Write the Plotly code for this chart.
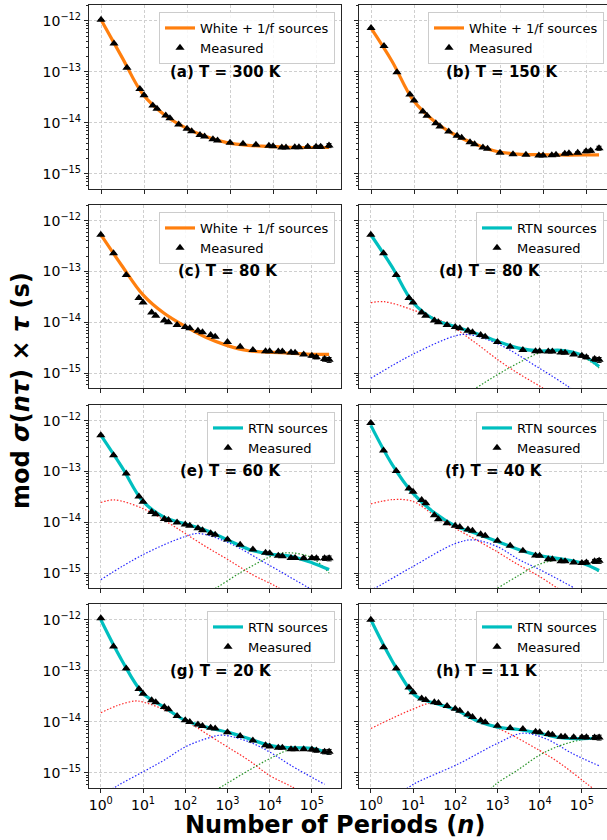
import plotly.graph_objects as go

# ---------------- measured data ----------------
N_ROW1 = [1, 2, 4, 8, 10, 16, 20, 32, 40, 64, 100, 128, 200, 256, 400, 512,
          1000, 2000, 4000, 8000, 10000, 16000, 20000, 32000, 40000, 64000,
          100000, 128000, 200000]
N_ALL = N_ROW1 + [256000]

MEAS_300K = [1.05e-12, 3.6e-13, 1.2e-13, 4.6e-14, 3.5e-14, 2.2e-14, 1.9e-14, 1.4e-14,
             1.23e-14, 9.3e-15, 7.7e-15, 6.9e-15, 5.8e-15, 5.4e-15, 4.8e-15, 4.5e-15,
             4.1e-15, 3.9e-15, 3.75e-15, 3.55e-15, 3.5e-15, 3.3e-15, 3.3e-15, 3.35e-15,
             3.35e-15, 3.4e-15, 3.4e-15, 3.4e-15, 3.6e-15]
MEAS_150K = [7.2e-13, 3.2e-13, 9.8e-14, 3.6e-14, 2.75e-14, 1.67e-14, 1.38e-14, 9.8e-15,
             8.5e-15, 6.8e-15, 5.6e-15, 5.1e-15, 4.2e-15, 3.8e-15, 3.3e-15, 3.1e-15,
             2.6e-15, 2.44e-15, 2.37e-15, 2.3e-15, 2.3e-15, 2.33e-15, 2.37e-15, 2.5e-15,
             2.55e-15, 2.6e-15, 2.78e-15, 2.85e-15, 3.2e-15]
MEAS_80K = [5.3e-13, 2.3e-13, 8.5e-14, 3.0e-14, 2.45e-14, 1.55e-14, 1.35e-14, 1.08e-14,
            1.0e-14, 8.8e-15, 8.05e-15, 7.6e-15, 6.8e-15, 6.35e-15, 5.6e-15, 5.2e-15,
            4.1e-15, 3.3e-15, 2.85e-15, 2.7e-15, 2.7e-15, 2.65e-15, 2.65e-15, 2.55e-15,
            2.52e-15, 2.33e-15, 2.18e-15, 2.05e-15, 1.88e-15, 1.82e-15]
MEAS_60K = [5.2e-13, 2.1e-13, 9.1e-14, 3.2e-14, 2.55e-14, 1.6e-14, 1.44e-14, 1.16e-14,
            1.11e-14, 9.9e-15, 9.0e-15, 8.5e-15, 7.6e-15, 7.0e-15, 6.1e-15, 5.7e-15,
            4.6e-15, 3.6e-15, 2.9e-15, 2.5e-15, 2.45e-15, 2.2e-15, 2.13e-15, 1.97e-15,
            1.97e-15, 1.95e-15, 1.97e-15, 1.95e-15, 1.95e-15, 1.95e-15]
MEAS_40K = [9.0e-13, 2.6e-13, 1.02e-13, 4.6e-14, 4.0e-14, 2.73e-14, 2.36e-14, 1.38e-14,
            1.14e-14, 9.6e-15, 8.5e-15, 8.1e-15, 7.2e-15, 6.8e-15, 5.8e-15, 5.4e-15,
            4.3e-15, 3.45e-15, 2.75e-15, 2.22e-15, 2.2e-15, 1.87e-15, 1.87e-15, 1.7e-15,
            1.7e-15, 1.62e-15, 1.58e-15, 1.62e-15, 1.7e-15, 1.74e-15]
MEAS_20K = [1.07e-12, 3.0e-13, 1.11e-13, 4.4e-14, 3.55e-14, 2.65e-14, 2.44e-14, 1.96e-14,
            1.77e-14, 1.31e-14, 1.08e-14, 1.0e-14, 8.9e-15, 8.3e-15, 7.7e-15, 7.4e-15,
            6.3e-15, 5.3e-15, 4.3e-15, 3.5e-15, 3.3e-15, 3.1e-15, 3.1e-15, 2.9e-15,
            2.9e-15, 2.9e-15, 2.87e-15, 2.75e-15, 2.6e-15, 2.6e-15]
MEAS_11K = [1.0e-12, 2.9e-13, 1.11e-13, 4.7e-14, 3.8e-14, 2.88e-14, 2.7e-14, 2.44e-14,
            2.34e-14, 2.05e-14, 1.8e-14, 1.65e-14, 1.39e-14, 1.25e-14, 1.06e-14, 9.9e-15,
            8.4e-15, 7.6e-15, 7.3e-15, 6.4e-15, 6.3e-15, 5.8e-15, 5.6e-15, 5.1e-15,
            5.1e-15, 5.0e-15, 5.0e-15, 5.0e-15, 4.95e-15, 4.95e-15]

# relative uncertainty of each measured point (same n order as N_ALL)
REL_ERR = [0.01, 0.01, 0.01, 0.01, 0.01, 0.01, 0.01, 0.01, 0.01, 0.01, 0.01, 0.01,
           0.01, 0.01, 0.015, 0.015, 0.02, 0.02, 0.02, 0.025, 0.025, 0.03, 0.03, 0.035,
           0.04, 0.05, 0.06, 0.07, 0.09, 0.11]

# ---------------- model curves ----------------
FIT_N_ROW1 = [1, 3.1, 9.5, 29.5, 91, 275, 850, 2600, 8100, 25000, 78000, 200000]
FIT_300K = [1.05e-12, 1.9e-13, 3.6e-14, 1.45e-14, 8.1e-15, 5.4e-15, 4.1e-15, 3.63e-15,
            3.47e-15, 3.32e-15, 3.3e-15, 3.3e-15]
FIT_150K = [7.2e-13, 1.6e-13, 2.8e-14, 1.08e-14, 5.8e-15, 3.8e-15, 2.75e-15, 2.45e-15,
            2.38e-15, 2.35e-15, 2.35e-15, 2.36e-15]

FIT_N = [1, 3.16, 10, 31.6, 100, 316, 1000, 3160, 10000, 31600, 100000, 256000]
FIT_80K_WF = [5.3e-13, 1.3e-13, 3.47e-14, 1.5e-14, 8.3e-15, 5.0e-15, 3.47e-15, 2.75e-15,
              2.57e-15, 2.45e-15, 2.34e-15, 2.32e-15]
FIT_80K_RTN = [5.3e-13, 1.25e-13, 2.45e-14, 1.14e-14, 8.2e-15, 6.0e-15, 4.2e-15, 3.1e-15,
               2.72e-15, 2.8e-15, 2.25e-15, 1.35e-15]
FIT_60K = [5.2e-13, 1.22e-13, 2.57e-14, 1.26e-14, 9.3e-15, 6.9e-15, 4.5e-15, 2.95e-15,
           2.35e-15, 2.13e-15, 1.6e-15, 1.17e-15]
FIT_40K = [8.1e-13, 1.4e-13, 3.7e-14, 1.55e-14, 8.5e-15, 6.0e-15, 4.2e-15, 2.9e-15,
           2.2e-15, 1.9e-15, 1.58e-15, 1.12e-15]
FIT_20K = [1.0e-12, 1.6e-13, 3.63e-14, 1.95e-14, 1.07e-14, 7.9e-15, 6.3e-15, 4.7e-15,
           3.47e-15, 3.1e-15, 3.05e-15, 2.4e-15]
FIT_N_11K = [1, 3.16, 10, 16, 31.6, 100, 316, 1000, 3160, 10000, 31600, 100000, 256000]
FIT_11K = [1.0e-12, 1.6e-13, 3.6e-14, 2.8e-14, 2.34e-14, 1.74e-14, 1.07e-14, 7.9e-15,
           7.1e-15, 6.0e-15, 4.9e-15, 4.7e-15, 4.9e-15]

# individual RTN source contributions
RED_N_80K = [1, 2.1, 10, 63, 270, 1150, 3470, 11200, 31600]
RED_80K = [2.43e-14, 2.54e-14, 1.74e-14, 9.5e-15, 4.2e-15, 1.7e-15, 9.3e-16, 5.2e-16, 2.8e-16]
BLUE_N_80K = [1, 10, 100, 200, 1000, 10000, 44700, 100000]
BLUE_80K = [7.9e-16, 2.35e-15, 5.4e-15, 5.75e-15, 3.8e-15, 1.23e-15, 5.6e-16, 3.5e-16]
GREEN_N_80K = [200, 1000, 3160, 10000, 20000, 100000, 256000]
GREEN_80K = [4.0e-16, 9.3e-16, 1.58e-15, 2.5e-15, 2.7e-15, 2.1e-15, 1.26e-15]

RED_N_60K = [1, 2.1, 10, 42, 100, 310, 1000, 3900, 13800, 40000]
RED_60K = [2.45e-14, 2.75e-14, 1.86e-14, 9.5e-15, 6.0e-15, 3.3e-15, 1.86e-15, 9.3e-16,
           5.5e-16, 3.2e-16]
BLUE_N_60K = [1, 10, 100, 210, 1100, 7900, 85000, 250000]
BLUE_60K = [7.4e-16, 2.3e-15, 5.25e-15, 6.0e-15, 3.9e-15, 1.58e-15, 5.1e-16, 3.2e-16]
GREEN_N_60K = [200, 520, 2700, 13800, 31600, 100000, 256000]
GREEN_60K = [3.2e-16, 5.0e-16, 1.17e-15, 2.3e-15, 2.5e-15, 2.0e-15, 1.0e-15]

RED_N_40K = [1, 3.4, 10, 31.6, 100, 316, 1000, 3160, 10000, 25000, 63000]
RED_40K = [2.3e-14, 2.8e-14, 2.57e-14, 1.38e-14, 7.6e-15, 4.5e-15, 2.6e-15, 1.45e-15,
           8.5e-16, 5.2e-16, 3.2e-16]
BLUE_N_40K = [1, 1.35, 10, 100, 270, 1000, 3160, 10000, 63000]
BLUE_40K = [4.6e-16, 5.2e-16, 1.35e-15, 3.8e-15, 4.5e-15, 3.3e-15, 1.86e-15, 1.17e-15, 5.2e-16]
GREEN_N_40K = [1000, 3160, 10000, 31600, 100000, 256000]
GREEN_40K = [5.0e-16, 8.9e-16, 1.5e-15, 1.82e-15, 1.58e-15, 1.05e-15]

RED_N_20K = [1, 2.5, 6.5, 10, 31.6, 100, 316, 1000, 3160, 10000, 31600, 100000]
RED_20K = [1.51e-14, 2.1e-14, 2.57e-14, 2.45e-14, 1.74e-14, 1.07e-14, 5.9e-15, 3.24e-15,
           1.78e-15, 8.9e-16, 5.5e-16, 3.2e-16]
BLUE_N_20K = [1, 2.6, 10, 31.6, 100, 316, 740, 3160, 10000, 31600, 200000]
BLUE_20K = [3.5e-16, 5.75e-16, 1.05e-15, 1.78e-15, 3.24e-15, 4.7e-15, 5.5e-15, 4.1e-15,
            2.57e-15, 1.41e-15, 6.0e-16]
GREEN_N_20K = [400, 900, 3160, 10000, 31600, 100000, 256000]
GREEN_20K = [4.0e-16, 6.0e-16, 1.12e-15, 1.9e-15, 2.9e-15, 3.0e-15, 2.4e-15]

RED_N_11K = [1, 3.16, 10, 28, 100, 316, 1000, 10000, 31600, 126000, 316000]
RED_11K = [7.4e-15, 1.17e-14, 1.78e-14, 2.34e-14, 1.66e-14, 1.05e-14, 7.6e-15, 2.75e-15,
           1.51e-15, 6.3e-16, 3.5e-16]
BLUE_N_11K = [6, 11, 120, 1000, 3900, 13800, 60000, 256000]
BLUE_11K = [4.5e-16, 6.2e-16, 1.51e-15, 3.8e-15, 6.0e-15, 4.7e-15, 2.4e-15, 1.38e-15]
GREEN_N_11K = [600, 910, 3160, 10000, 31600, 100000, 256000]
GREEN_11K = [4.3e-16, 6.0e-16, 1.17e-15, 2.24e-15, 3.47e-15, 4.47e-15, 4.9e-15]

# ---------------- tick labels ----------------
X_TICKS = [1, 10, 100, 1000, 10000, 100000]
X_TICK_TEXT = ["10<sup>0</sup>", "10<sup>1</sup>", "10<sup>2</sup>", "10<sup>3</sup>",
               "10<sup>4</sup>", "10<sup>5</sup>"]
Y_TICKS = [1e-15, 1e-14, 1e-13, 1e-12]
Y_TICK_TEXT = ["10<sup>−15</sup>", "10<sup>−14</sup>", "10<sup>−13</sup>", "10<sup>−12</sup>"]

LABEL_WF = "White + 1/f sources"
LABEL_RTN = "RTN sources"
LABEL_MEAS = "Measured"

ORANGE = "#ff7f0e"
CYAN = "#00bfbf"
FONT = "DejaVu Sans"

# panel layout in pixels (figure has no margins)
W, H = 607, 840
COLS = [(89, 341), (359, 607)]
ROWS = [(5, 189), (205, 388), (405, 588), (604, 788)]
X_RANGE = {0: (-0.28, 5.58), 1: (-0.28, 5.69)}   # row 1 vs rows 2-4 (left column)
Y_RANGE = [-15.295, -11.69]

panels = [
    dict(tag="(a) T = 300 K", n=N_ROW1, y=MEAS_300K, fn=FIT_N_ROW1, fy=FIT_300K,
         color=ORANGE, name=LABEL_WF, comps=None, tx=0.544),
    dict(tag="(b) T = 150 K", n=N_ROW1, y=MEAS_150K, fn=FIT_N_ROW1, fy=FIT_150K,
         color=ORANGE, name=LABEL_WF, comps=None, tx=0.577),
    dict(tag="(c) T = 80 K", n=N_ALL, y=MEAS_80K, fn=FIT_N, fy=FIT_80K_WF,
         color=ORANGE, name=LABEL_WF, comps=None, tx=0.55),
    dict(tag="(d) T = 80 K", n=N_ALL, y=MEAS_80K, fn=FIT_N, fy=FIT_80K_RTN,
         color=CYAN, name=LABEL_RTN, tx=0.530,
         comps=[(RED_N_80K, RED_80K), (BLUE_N_80K, BLUE_80K), (GREEN_N_80K, GREEN_80K)]),
    dict(tag="(e) T = 60 K", n=N_ALL, y=MEAS_60K, fn=FIT_N, fy=FIT_60K,
         color=CYAN, name=LABEL_RTN, tx=0.56,
         comps=[(RED_N_60K, RED_60K), (BLUE_N_60K, BLUE_60K), (GREEN_N_60K, GREEN_60K)]),
    dict(tag="(f) T = 40 K", n=N_ALL, y=MEAS_40K, fn=FIT_N, fy=FIT_40K,
         color=CYAN, name=LABEL_RTN, tx=0.544,
         comps=[(RED_N_40K, RED_40K), (BLUE_N_40K, BLUE_40K), (GREEN_N_40K, GREEN_40K)]),
    dict(tag="(g) T = 20 K", n=N_ALL, y=MEAS_20K, fn=FIT_N, fy=FIT_20K,
         color=CYAN, name=LABEL_RTN, tx=0.524,
         comps=[(RED_N_20K, RED_20K), (BLUE_N_20K, BLUE_20K), (GREEN_N_20K, GREEN_20K)]),
    dict(tag="(h) T = 11 K", n=N_ALL, y=MEAS_11K, fn=FIT_N_11K, fy=FIT_11K,
         color=CYAN, name=LABEL_RTN, tx=0.516,
         comps=[(RED_N_11K, RED_11K), (BLUE_N_11K, BLUE_11K), (GREEN_N_11K, GREEN_11K)]),
]
COMP_COLORS = ["rgba(255,0,0,0.85)", "rgba(0,0,255,0.85)", "rgba(0,128,0,0.85)"]

MINOR_Y = [k * 10.0 ** e for e in range(-16, -11) for k in range(2, 10)]

GRID_DASH = "3px,2px"

fig = go.Figure()
layout = dict(
    width=W, height=H, margin=dict(l=0, r=0, t=0, b=0),
    paper_bgcolor="white", plot_bgcolor="white",
    font=dict(family=FONT, color="black", size=14),
    showlegend=True, annotations=[],
)

for i, p in enumerate(panels):
    row, col = divmod(i, 2)
    k = i + 1
    xa, ya = ("x", "y") if k == 1 else (f"x{k}", f"y{k}")
    lg = "legend" if k == 1 else f"legend{k}"

    if p["comps"]:
        for (cn, cy), cc in zip(p["comps"], COMP_COLORS):
            fig.add_trace(go.Scatter(
                x=cn, y=cy, mode="lines", xaxis=xa, yaxis=ya, showlegend=False,
                line=dict(color=cc, width=1.2, dash="1.5px,1.8px", shape="spline"),
                hoverinfo="skip"))
    fig.add_trace(go.Scatter(
        x=p["fn"], y=p["fy"], mode="lines", name=p["name"], xaxis=xa, yaxis=ya,
        legend=lg, line=dict(color=p["color"], width=3.2, shape="spline", smoothing=1.0)))
    errs = [v * r for v, r in zip(p["y"], REL_ERR)]
    fig.add_trace(go.Scatter(
        x=p["n"], y=p["y"], mode="markers", name=LABEL_MEAS, xaxis=xa, yaxis=ya,
        legend=lg,
        marker=dict(symbol="triangle-up", size=8, color="black"),
        error_y=dict(type="data", array=errs, visible=True, color="black",
                     thickness=1, width=2.5)))

    x0, x1 = COLS[col]
    y0, y1 = ROWS[row]
    xr0, xr1 = X_RANGE[0 if row == 0 else 1]
    if col == 1:
        xr1 = xr0 + (xr1 - xr0) * (COLS[1][1] - COLS[1][0]) / (COLS[0][1] - COLS[0][0])

    layout["xaxis" if k == 1 else f"xaxis{k}"] = dict(
        type="log", range=[xr0, xr1], domain=[x0 / W, x1 / W],
        anchor=ya, showline=True, linecolor="#262626", linewidth=1.2, mirror=True,
        ticks="outside", ticklen=4, tickwidth=1, tickcolor="#262626",
        tickmode="array", tickvals=X_TICKS, ticktext=X_TICK_TEXT,
        showticklabels=(row == 3), tickfont=dict(size=14, family=FONT),
        showgrid=True, gridcolor="#cfcfcf", gridwidth=0.8, griddash=GRID_DASH,
        zeroline=False)
    layout["yaxis" if k == 1 else f"yaxis{k}"] = dict(
        type="log", range=Y_RANGE, domain=[1 - y1 / H, 1 - y0 / H],
        anchor=xa, showline=True, linecolor="#262626", linewidth=1.2,
        mirror=(col == 0),
        ticks="outside", ticklen=4, tickwidth=1, tickcolor="#262626",
        tickmode="array", tickvals=Y_TICKS, ticktext=Y_TICK_TEXT,
        showticklabels=(col == 0), tickfont=dict(size=14, family=FONT),
        minor=dict(tickvals=MINOR_Y, ticks="outside", ticklen=2, tickwidth=0.8,
                   tickcolor="#262626", showgrid=False),
        showgrid=True, gridcolor="#cfcfcf", gridwidth=0.8, griddash=GRID_DASH,
        zeroline=False)

    layout[lg] = dict(
        x=(x1 - 6) / W if col == 0 else 604 / W, xanchor="right",
        y=1 - (y0 + 7) / H, yanchor="top",
        bgcolor="rgba(255,255,255,0.85)", bordercolor="#cccccc", borderwidth=1,
        font=dict(size=13, family=FONT), itemwidth=30, tracegroupgap=0)

    layout["annotations"].append(dict(
        text=f"<b>{p['tag']}</b>", xref=f"{xa} domain", yref=f"{ya} domain",
        x=p["tx"], y=0.637, xanchor="center", yanchor="middle", showarrow=False,
        font=dict(size=15, family=FONT, color="black")))

layout["annotations"].append(dict(
    text="<b>mod <i>σ</i>(<i>nτ</i>) × <i>τ</i> (s)</b>", xref="paper", yref="paper",
    x=21 / W, y=1 - 391 / H, textangle=-90, showarrow=False,
    xanchor="center", yanchor="middle", font=dict(size=24, family=FONT)))
layout["annotations"].append(dict(
    text="<b>Number of Periods (<i>n</i>)</b>", xref="paper", yref="paper",
    x=334.5 / W, y=1 - 825 / H, showarrow=False,
    xanchor="center", yanchor="middle", font=dict(size=24, family=FONT)))

fig.update_layout(**layout)
fig.write_html("out.html")
